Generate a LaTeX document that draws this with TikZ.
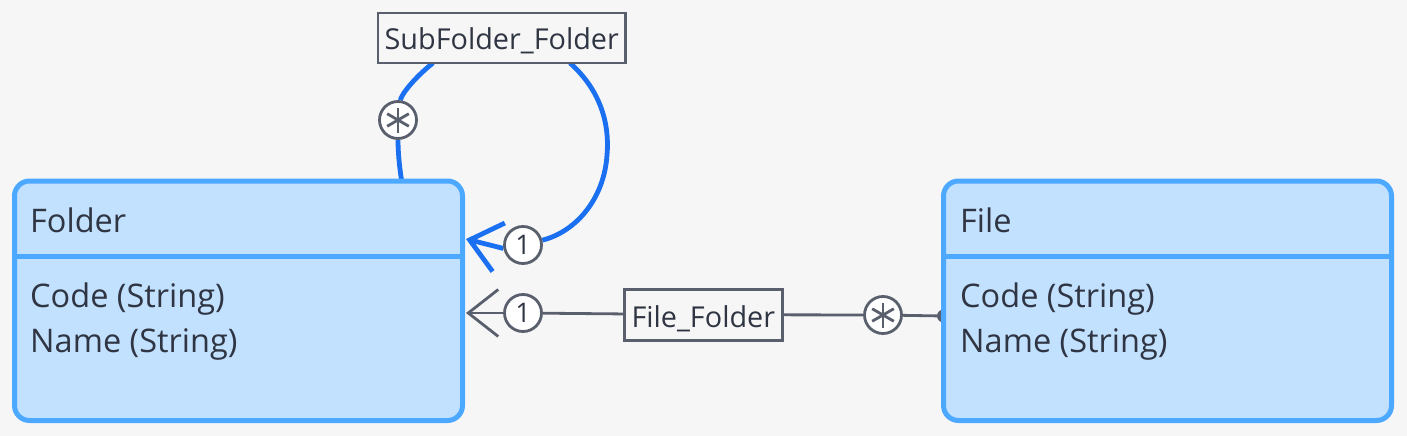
\documentclass[tikz,border=0pt]{standalone}
\usepackage{fontspec}
\setmainfont{Open Sans}
\usetikzlibrary{arrows.meta}
\definecolor{bgc}{HTML}{F6F6F6}
\definecolor{boxfill}{HTML}{C2E1FF}
\definecolor{boxline}{HTML}{4DA8FF}
\definecolor{bluelink}{HTML}{1A70F0}
\definecolor{greylink}{HTML}{5A5F6E}
\definecolor{txt}{HTML}{2F3542}
\pgfdeclarelayer{bglayer}
\pgfdeclarelayer{edgelayer}
\pgfsetlayers{bglayer,edgelayer,main}
\begin{document}
\begin{tikzpicture}[x=1pt,y=-1pt,
  classbox/.style={draw=boxline,fill=boxfill,line width=5pt,rounded corners=15pt,
    minimum width=448pt,minimum height=239.5pt,inner sep=0pt},
  classtext/.style={anchor=base west,inner sep=0pt,text=txt,font=\fontsize{32.5}{39}\selectfont},
  relbox/.style={draw=greylink,fill=bgc,line width=2.8pt,inner sep=0pt,text=txt,
    font=\fontsize{28.8}{34}\selectfont},
  reltext/.style={anchor=base,inner sep=0pt,text=txt,font=\fontsize{28.8}{34}\selectfont},
  mult/.style={circle,draw=greylink,fill=white,line width=2.8pt,minimum size=37pt,inner sep=0pt,
    text=txt,font=\fontsize{27}{32}\selectfont},
  blueline/.style={draw=bluelink,line width=4.8pt},
  greyline/.style={draw=greylink,line width=2.8pt},
  starline/.style={draw=greylink,line width=2.8pt}
]
\useasboundingbox (0,0) rectangle (1407,436);
\begin{pgfonlayer}{bglayer}
  \fill[bgc] (0,0) rectangle (1407,436);
\end{pgfonlayer}

% classes
\node[classbox] (folder) at (238.5,300.75) {};
\draw[boxline,line width=5pt] (folder.west |- 0,256) -- (folder.east |- 0,256);
\node[classtext] (folderT) at (30,232) {Folder};
\node[classtext] (folderA) at (30,307) {Code (String)};
\node[classtext] (folderB) at (30,352) {Name (String)};

\node[classbox] (file) at (1167.5,300.75) {};
\draw[boxline,line width=5pt] (file.west |- 0,256) -- (file.east |- 0,256);
\node[classtext] (fileT) at (960,232) {File};
\node[classtext] (fileA) at (960,307) {Code (String)};
\node[classtext] (fileB) at (960,352) {Name (String)};

% relation boxes
\node[relbox,minimum width=247.5pt,minimum height=50pt] (sub) at (501.75,38) {};
\node[reltext] (subT) at (501.75,50) {SubFolder\_Folder};
\node[relbox,minimum width=158pt,minimum height=51pt] (ff) at (703.3,314.7) {};
\node[reltext] (ffT) at (703.3,327) {File\_Folder};

% multiplicities
\node[mult] (star1) at (398,120) {};
\node[mult] (one1) at (523,245) {1};
\node[mult] (one2) at (523,313) {1};
\node[mult] (star2) at (883,315) {};
\foreach \s in {star1,star2}{
  \foreach \a in {90,30,150}{
    \draw[starline] ([shift={(\a:12.5)}]\s.center) -- ([shift={(\a+180:12.5)}]\s.center);
  }
}

% connectors
\coordinate (ftop) at (402,183);
\coordinate (subL) at (433,63);
\coordinate (subR) at (570,63);
\coordinate (tipA) at (466,239);
\coordinate (tipB) at (466,313);
\coordinate (fdot) at (943.5,316);
\begin{pgfonlayer}{edgelayer}
  \draw[blueline] (ftop) .. controls (399,165) and (398,150) .. (star1);
  \draw[blueline] (star1) .. controls (401,95) and (414,78) .. (subL);
  \draw[blueline] (subR) .. controls (598,88) and (610,120) .. (607,155)
                  .. controls (604,200) and (575,232) .. (one1);
  \draw[blueline,-{Straight Barb[length=30pt,width=50pt]}] (one1.190) -- (tipA);
  \draw[greyline,-{Straight Barb[length=30pt,width=47pt]}] (one2) -- (tipB);
  \draw[greyline] (one2) -- (ff);
  \draw[greyline] (ff) -- (star2);
  \draw[greyline] (star2) -- (fdot);
  \fill[greylink] (fdot) circle (6.5);
\end{pgfonlayer}
\end{tikzpicture}
\end{document}
